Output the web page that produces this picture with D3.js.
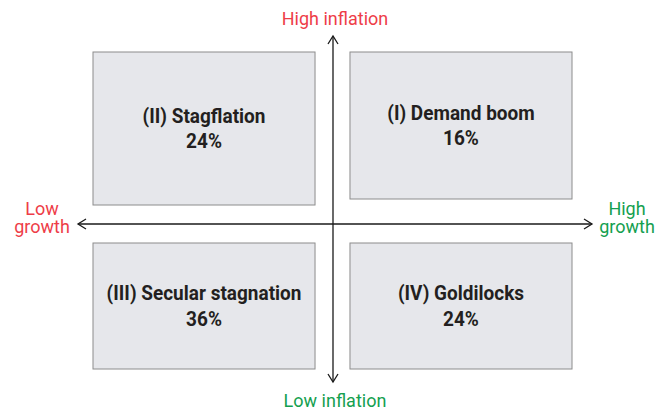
<!DOCTYPE html>
<html>
<head>
<meta charset="utf-8">
<script src="https://cdn.jsdelivr.net/npm/d3@7"></script>
<style>
  body { margin: 0; background: #fff; }
  svg { display: block; font-family: Roboto, "Noto Sans", sans-serif; }
</style>
</head>
<body>
<svg width="665" height="412"></svg>
<script>
'use strict';

// quadrant data
var quadrants = ["(I) Demand boom", "(II) Stagflation", "(III) Secular stagnation", "(IV) Goldilocks"];
var shares = [16, 24, 36, 24];
var growthSide = ["High", "Low", "Low", "High"];
var inflationSide = ["High", "High", "Low", "Low"];

// axis end labels
var growthLabels = { Low: ["Low", "growth"], High: ["High", "growth"] };
var inflationLabels = { High: "High inflation", Low: "Low inflation" };

var RED = "#ee3d48", GREEN = "#14a050";

function dibujar() {
  var svg = d3.select("svg");

  // axes cross at (0,0); domain -1..1
  var x = d3.scaleLinear().domain([-1, 0, 1]).range([78, 333, 592]);
  var y = d3.scaleLinear().domain([-1, 0, 1]).range([382, 224, 36]);

  // box layout: growth -> columns, inflation -> rows
  var col = d3.scaleBand().domain(["Low", "High"]).range([93, 572]).paddingInner(0.136);
  var rowTop = { High: 52, Low: 243 };
  var rowBottom = { High: 205, Low: 369 };

  var data = quadrants.map(function (q, i) {
    return { name: q, share: shares[i], g: growthSide[i], inf: inflationSide[i] };
  });

  var g = svg.append("g");

  var boxes = g.selectAll(".box")
    .data(data)
    .enter().append("g")
    .attr("class", "box");

  // demand boom box is drawn a bit shorter in the original
  function bottom(d) { return rowBottom[d.inf] - (d.name === quadrants[0] ? 6 : 0); }
  function midY(d) { return (rowTop[d.inf] + bottom(d)) / 2; }

  boxes.append("rect")
    .attr("x", function (d) { return col(d.g); })
    .attr("y", function (d) { return rowTop[d.inf]; })
    .attr("width", col.bandwidth())
    .attr("height", function (d) { return bottom(d) - rowTop[d.inf]; })
    .attr("fill", "#e6e7eb")
    .attr("stroke", "#8c8c8c")
    .attr("stroke-width", 1);

  // slightly condensed bold labels
  var lab = boxes.append("text")
    .attr("transform", function (d) {
      return "translate(" + (col(d.g) + col.bandwidth() / 2) + "," + midY(d) + ") scale(0.95,1)";
    })
    .attr("text-anchor", "middle")
    .attr("font-weight", "bold")
    .attr("font-size", 20)
    .attr("fill", "#231f20");
  lab.append("tspan").attr("x", 0).attr("y", -6).text(function (d) { return d.name; });
  lab.append("tspan").attr("x", 0).attr("y", 20).text(function (d) { return d.share + "%"; });

  // axes
  var ax = g.append("g").attr("stroke", "#1a1a1a").attr("stroke-width", 1.3).attr("fill", "none");
  ax.append("line").attr("x1", x(-1)).attr("x2", x(1)).attr("y1", y(0)).attr("y2", y(0));
  ax.append("line").attr("x1", x(0)).attr("x2", x(0)).attr("y1", y(1)).attr("y2", y(-1));

  var h = 5, l = 8;
  ax.append("path").attr("d", "M" + (x(-1) + l) + "," + (y(0) - h) + "L" + x(-1) + "," + y(0) + "L" + (x(-1) + l) + "," + (y(0) + h));
  ax.append("path").attr("d", "M" + (x(1) - l) + "," + (y(0) - h) + "L" + x(1) + "," + y(0) + "L" + (x(1) - l) + "," + (y(0) + h));
  ax.append("path").attr("d", "M" + (x(0) - h) + "," + (y(1) + l) + "L" + x(0) + "," + y(1) + "L" + (x(0) + h) + "," + (y(1) + l));
  ax.append("path").attr("d", "M" + (x(0) - h) + "," + (y(-1) - l) + "L" + x(0) + "," + y(-1) + "L" + (x(0) + h) + "," + (y(-1) - l));

  // axis end labels
  g.append("text")
    .attr("x", x(0) + 2).attr("y", 25)
    .attr("text-anchor", "middle").attr("font-size", 18).attr("fill", RED)
    .text(inflationLabels.High);
  g.append("text")
    .attr("x", x(0) + 2).attr("y", 407)
    .attr("text-anchor", "middle").attr("font-size", 18).attr("fill", GREEN)
    .text(inflationLabels.Low);

  var gl = g.append("text")
    .attr("text-anchor", "middle").attr("font-size", 18).attr("fill", RED);
  growthLabels.Low.forEach(function (t, i) {
    gl.append("tspan").attr("x", 42).attr("y", 215 + i * 18).text(t);
  });
  var gh = g.append("text")
    .attr("text-anchor", "middle").attr("font-size", 18).attr("fill", GREEN);
  growthLabels.High.forEach(function (t, i) {
    gh.append("tspan").attr("x", 627).attr("y", 215 + i * 18).text(t);
  });
}

dibujar();
</script>
</body>
</html>
